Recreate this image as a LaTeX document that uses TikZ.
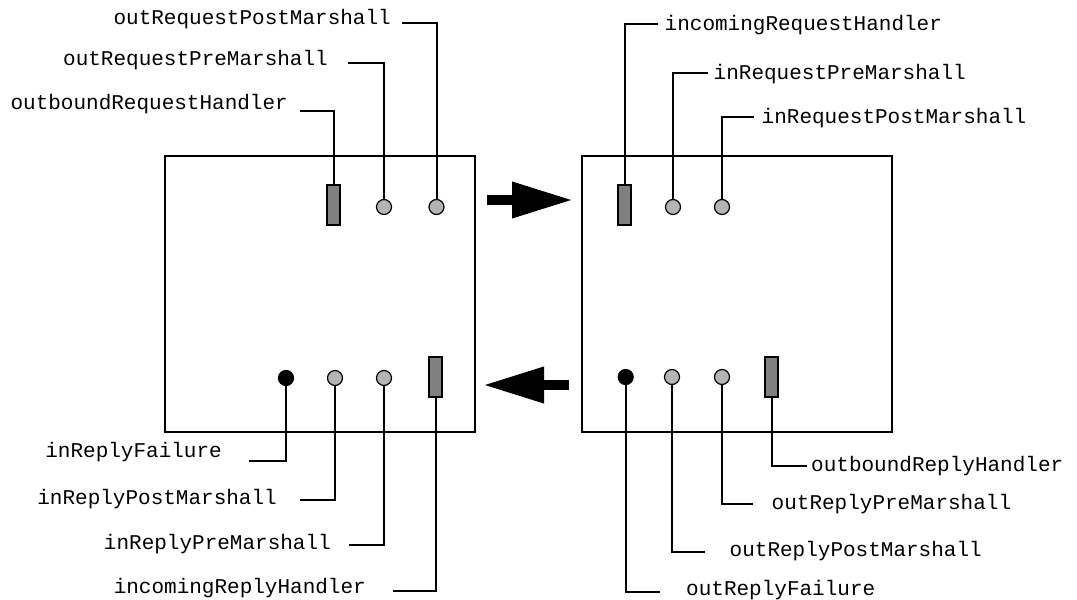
\documentclass[tikz,border=0pt]{standalone}
\usepackage{fontspec}
\usepackage{xcolor}
\usepackage{tikz}
\usetikzlibrary{positioning, arrows.meta}
\newfontfamily\tagfont{Liberation Mono}
\definecolor{handlergray}{HTML}{808080}
\definecolor{hookgray}{HTML}{B4B4B4}
\tikzset{
  unit/.style     = {rectangle, draw, line width=2pt, minimum width=310pt,
                     minimum height=276pt, inner sep=0pt},
  handler/.style  = {rectangle, draw, line width=2pt, fill=handlergray,
                     minimum width=13pt, minimum height=40pt, inner sep=0pt},
  hook/.style     = {circle, draw, line width=1.2pt, fill=hookgray,
                     minimum size=15pt, inner sep=0pt},
  fail/.style     = {circle, draw, line width=1.2pt, fill=black,
                     minimum size=15pt, inner sep=0pt},
  tag/.style      = {font=\tagfont\fontsize{21}{24}\selectfont, inner sep=0pt,
                     text height=14pt, text depth=0pt},
  lead/.style     = {line width=2pt},
  bigarrow/.style = {line width=10pt, -{Triangle[length=61pt,width=34pt]}},
}
\begin{document}
\begin{tikzpicture}[x=1pt, y=-1pt]
  \useasboundingbox (0,0) rectangle (1077,600);

  % the two sides
  \node[unit] (client) at (320,293.7) {};
  \node[unit] (server) at (737.3,293.7) {};

  % request hooks
  \node[handler] (outReqH) at (333.5,205) {};
  \node[hook] (outReqPre) at (384,207) {};
  \node[hook] (outReqPost) at (436.5,207) {};
  \node[handler] (inReqH) at (624.5,205) {};
  \node[hook] (inReqPre) at (673,207) {};
  \node[hook] (inReqPost) at (722,207) {};

  % reply hooks
  \node[fail] (inRepFail) at (286,378) {};
  \node[hook] (inRepPost) at (335,378) {};
  \node[hook] (inRepPre) at (384,378) {};
  \node[handler] (incRepH) at (435.5,377) {};
  \node[fail] (outRepFail) at (625.7,377) {};
  \node[hook] (outRepPost) at (672,377) {};
  \node[hook] (outRepPre) at (722,377) {};
  \node[handler] (outRepH) at (771.5,377) {};

  % labels
  \node[tag, anchor=east] (tOutReqPost) at (391,17) {outRequestPostMarshall};
  \node[tag, anchor=east] (tOutReqPre) at (328,58.7) {outRequestPreMarshall};
  \node[tag, anchor=east] (tOutReqH) at (288,102.5) {outboundRequestHandler};
  \node[tag, anchor=west] (tInReqH) at (664.5,23) {incomingRequestHandler};
  \node[tag, anchor=west] (tInReqPre) at (713.5,72.5) {inRequestPreMarshall};
  \node[tag, anchor=west] (tInReqPost) at (761.5,116) {inRequestPostMarshall};

  \node[tag, anchor=east] (tInRepFail) at (222,450.8) {inReplyFailure};
  \node[tag, anchor=east] (tInRepPost) at (277,497.5) {inReplyPostMarshall};
  \node[tag, anchor=east] (tInRepPre) at (331,542.5) {inReplyPreMarshall};
  \node[tag, anchor=east] (tIncRepH) at (366,586.7) {incomingReplyHandler};
  \node[tag, anchor=west] (tOutRepH) at (811,464) {outboundReplyHandler};
  \node[tag, anchor=west] (tOutRepPre) at (771.5,502.5) {outReplyPreMarshall};
  \node[tag, anchor=west] (tOutRepPost) at (729.5,549) {outReplyPostMarshall};
  \node[tag, anchor=west] (tOutRepFail) at (686,588.5) {outReplyFailure};

  % leader lines
  \draw[lead] (outReqPost) |- ([xshift=11pt, yshift=-6pt]tOutReqPost.east);
  \draw[lead] (outReqPre) |- ([xshift=19.5pt, yshift=-4.6pt]tOutReqPre.east);
  \draw[lead] (outReqH) |- ([xshift=12pt, yshift=-8.5pt]tOutReqH.east);
  \draw[lead] (inReqH) |- ([xshift=-6.5pt, yshift=-1pt]tInReqH.west);
  \draw[lead] (inReqPre) |- ([xshift=-6pt]tInReqPre.west);
  \draw[lead] (inReqPost) |- ([xshift=-7.5pt, yshift=-0.7pt]tInReqPost.west);

  \draw[lead] (inRepFail) |- ([xshift=27pt, yshift=-10pt]tInRepFail.east);
  \draw[lead] (inRepPost) |- ([xshift=23pt, yshift=-2.5pt]tInRepPost.east);
  \draw[lead] (inRepPre) |- ([xshift=18pt, yshift=-2.5pt]tInRepPre.east);
  \draw[lead] (incRepH) |- ([xshift=27pt, yshift=-4pt]tIncRepH.east);
  \draw[lead] (outRepH) |- ([xshift=-4.5pt, yshift=-2pt]tOutRepH.west);
  \draw[lead] (outRepPre) |- ([xshift=-18.5pt, yshift=-1.8pt]tOutRepPre.west);
  \draw[lead] (outRepPost) |- ([xshift=-24.5pt, yshift=-3.3pt]tOutRepPost.west);
  \draw[lead] (outRepFail) |- ([xshift=-26pt, yshift=-3.2pt]tOutRepFail.west);

  % flow between the sides
  \coordinate (reqTail) at (487,200);
  \coordinate (reqTip) at (573,200);
  \coordinate (repTail) at (569,385);
  \coordinate (repTip) at (483,385);
  \draw[bigarrow] (reqTail) -- (reqTip);
  \draw[bigarrow] (repTail) -- (repTip);

\end{tikzpicture}
\end{document}
